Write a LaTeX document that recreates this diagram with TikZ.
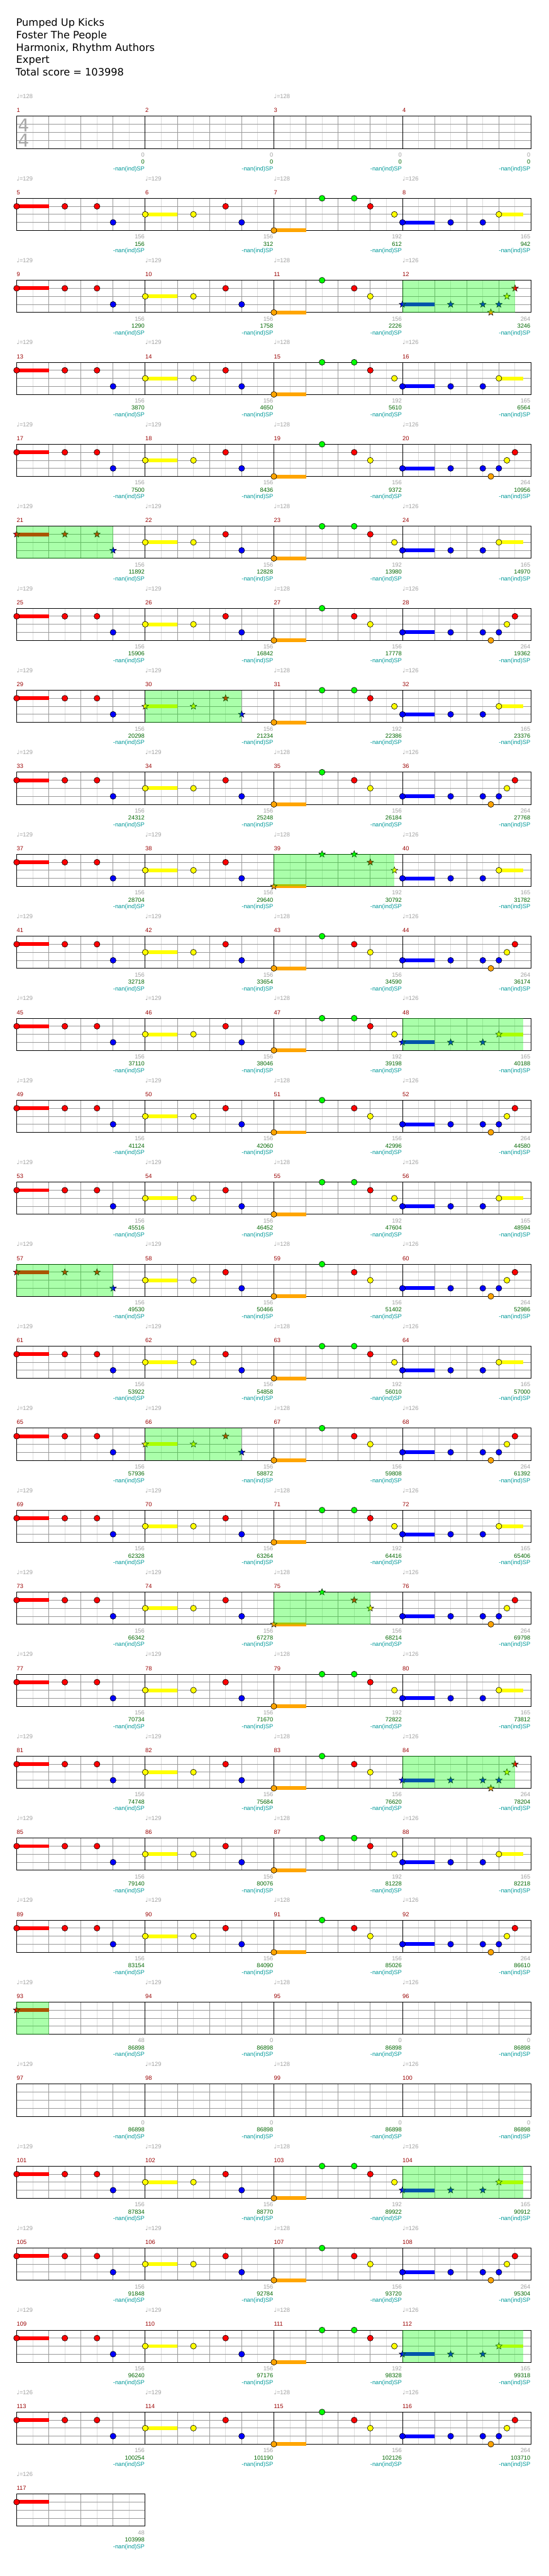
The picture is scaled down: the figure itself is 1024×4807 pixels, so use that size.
\documentclass[tikz,border=0pt]{standalone}
\usepackage{fontspec}
\setmainfont{Liberation Sans}
\newfontfamily\headfont{DejaVu Sans}
\usetikzlibrary{shapes.geometric}

\definecolor{lane0}{HTML}{00FF00}
\definecolor{lane1}{HTML}{FF0000}
\definecolor{lane2}{HTML}{FFFF00}
\definecolor{lane3}{HTML}{0000FF}
\definecolor{lane4}{HTML}{FFA500}
\definecolor{barred}{HTML}{990000}
\definecolor{ptsgray}{HTML}{A0A0A0}
\definecolor{totgreen}{HTML}{006600}
\definecolor{spteal}{HTML}{009999}
\definecolor{beatgray}{HTML}{999999}
\definecolor{halfgray}{HTML}{DDDDDD}
\definecolor{sigray}{HTML}{A8A8A8}

\tikzset{
  every node/.style={inner sep=0pt},
  halfline/.style={draw=halfgray, line width=1pt},
  beatline/.style={draw=beatgray, line width=1pt},
  barline/.style={draw=black, line width=1pt},
  gemdot/.style={circle, draw=black, line width=0.7pt, minimum size=11pt},
  gemstar/.style={star, star points=5, star point ratio=2.4, draw=black,
    line width=0.6pt, minimum size=13pt},
  sustain/.style={line width=7pt},
  spzone/.style={fill=lane0, fill opacity=0.333},
  small/.style={font=\fontsize{11}{13}\selectfont},
  tempolbl/.style={small, text=ptsgray, anchor=base west},
  barlbl/.style={small, text=barred, anchor=base west},
  ptslbl/.style={small, text=ptsgray, anchor=base east},
  totlbl/.style={small, text=totgreen, anchor=base east},
  splbl/.style={small, text=spteal, anchor=base east},
  headline/.style={font=\headfont\fontsize{19}{23}\selectfont, anchor=base west},
  timesig/.style={font=\headfont\fontsize{33}{33}\selectfont, text=sigray},
}

% one gem: lane, position in the row; a star inside the star power zone
\newcommand{\gem}[2]{%
  \pgfmathtruncatemacro\onsp{and(#2>=\spfrom,#2<=\spto)}%
  \ifnum\onsp=1
    \node[gemstar, fill=lane#1] (g\rowno-#2-#1) at (#2,15*#1) {};
  \else
    \node[gemdot, fill=lane#1] (g\rowno-#2-#1) at (#2,15*#1) {};
  \fi}
\newcommand{\hold}[3]{\draw[sustain, lane#1] (#2,15*#1) -- (#3,15*#1);}

% note patterns of a row of four bars
\newcommand{\firsthalf}{%
  \hold{1}{0}{60}\gem{1}{0}\gem{1}{90}\gem{1}{150}\gem{3}{180}
  \hold{2}{240}{300}\gem{2}{240}\gem{2}{330}\gem{1}{390}\gem{3}{420}}
\newcommand{\verseA}{\firsthalf
  \hold{4}{480}{540}\gem{4}{480}\gem{0}{570}\gem{0}{630}\gem{1}{660}\gem{2}{705}
  \hold{3}{720}{780}\gem{3}{720}\gem{3}{810}\gem{3}{870}
  \hold{2}{900}{945}\gem{2}{900}}
\newcommand{\verseB}{\firsthalf
  \hold{4}{480}{540}\gem{4}{480}\gem{0}{570}\gem{1}{630}\gem{2}{660}
  \hold{3}{720}{780}\gem{3}{720}\gem{3}{810}\gem{3}{870}
  \gem{4}{885}\gem{3}{900}\gem{2}{915}\gem{1}{930}}
\newcommand{\breakbar}{\hold{1}{0}{60}\gem{1}{0}}

% row, notes, star power from/to, tempo/points/total of each bar
\newcommand{\chartrow}[5]{%
  \begin{scope}[shift={(31,217+153*#1)}]
    \def\rowno{#1}\def\spfrom{#3}\def\spto{#4}
    \foreach \tempo/\pts/\tot [count=\j from 0] in {#5} {
      \pgfmathtruncatemacro\barno{4*#1+\j+1}
      \begin{scope}[xshift=240*\j]
        \foreach \x in {30,90,150,210} \draw[halfline] (\x,0) -- (\x,60);
        \foreach \y in {15,30,45} \draw[beatline] (0,\y) -- (240,\y);
        \foreach \x in {60,120,180} \draw[beatline] (\x,0) -- (\x,60);
        \draw[barline] (0,0) rectangle (240,60);
        \ifx\tempo\empty\else
          \node[tempolbl] (tempo-\barno) at (0,-33) {{\headfont ♩}=\tempo};
        \fi
        \node[barlbl] (bar-\barno) at (0,-7) {\barno};
        \node[ptslbl] (pts-\barno) at (239,75.7) {\pts};
        \node[totlbl] (tot-\barno) at (239,89) {\tot};
        \node[splbl] (sp-\barno) at (239,101.4) {-nan(ind)SP};
      \end{scope}
    }
    #2
    \ifdim #3pt<0pt \else \fill[spzone] (#3,0) rectangle (#4,60); \fi
  \end{scope}}

\begin{document}
\begin{tikzpicture}[x=1pt, y=-1pt]
  \useasboundingbox (0,0) rectangle (1024,4807);
  \fill[white] (0,0) rectangle (1024,4807);

  % heading
  \node[headline] (title1) at (30,49) {Pumped Up Kicks};
  \node[headline] (title2) at (30,72) {Foster The People};
  \node[headline] (title3) at (30,95.5) {Harmonix, Rhythm Authors};
  \node[headline] (title4) at (30,118.5) {Expert};
  \node[headline] (title5) at (29,141.5) {Total score = 103998};

  \chartrow{0}{}{-1}{-1}{128/0/0, /0/0, 128/0/0, /0/0}
  \node[timesig] (sig-top) at (44,233.5) {4};
  \node[timesig] (sig-bot) at (44,262) {4};

  \chartrow{1}{\verseA}{-1}{-1}{129/156/156, 129/156/312, 128/192/612, 126/165/942}
  \chartrow{2}{\verseB}{720}{930}{129/156/1290, 129/156/1758, 128/156/2226, 126/264/3246}
  \chartrow{3}{\verseA}{-1}{-1}{129/156/3870, 129/156/4650, 128/192/5610, 126/165/6564}
  \chartrow{4}{\verseB}{-1}{-1}{129/156/7500, 129/156/8436, 128/156/9372, 126/264/10956}
  \chartrow{5}{\verseA}{0}{180}{129/156/11892, 129/156/12828, 128/192/13980, 126/165/14970}
  \chartrow{6}{\verseB}{-1}{-1}{129/156/15906, 129/156/16842, 128/156/17778, 126/264/19362}
  \chartrow{7}{\verseA}{240}{420}{129/156/20298, 129/156/21234, 128/192/22386, 126/165/23376}
  \chartrow{8}{\verseB}{-1}{-1}{129/156/24312, 129/156/25248, 128/156/26184, 126/264/27768}
  \chartrow{9}{\verseA}{480}{705}{129/156/28704, 129/156/29640, 128/192/30792, 126/165/31782}
  \chartrow{10}{\verseB}{-1}{-1}{129/156/32718, 129/156/33654, 128/156/34590, 126/264/36174}
  \chartrow{11}{\verseA}{720}{945}{129/156/37110, 129/156/38046, 128/192/39198, 126/165/40188}
  \chartrow{12}{\verseB}{-1}{-1}{129/156/41124, 129/156/42060, 128/156/42996, 126/264/44580}
  \chartrow{13}{\verseA}{-1}{-1}{129/156/45516, 129/156/46452, 128/192/47604, 126/165/48594}
  \chartrow{14}{\verseB}{0}{180}{129/156/49530, 129/156/50466, 128/156/51402, 126/264/52986}
  \chartrow{15}{\verseA}{-1}{-1}{129/156/53922, 129/156/54858, 128/192/56010, 126/165/57000}
  \chartrow{16}{\verseB}{240}{420}{129/156/57936, 129/156/58872, 128/156/59808, 126/264/61392}
  \chartrow{17}{\verseA}{-1}{-1}{129/156/62328, 129/156/63264, 128/192/64416, 126/165/65406}
  \chartrow{18}{\verseB}{480}{660}{129/156/66342, 129/156/67278, 128/156/68214, 126/264/69798}
  \chartrow{19}{\verseA}{-1}{-1}{129/156/70734, 129/156/71670, 128/192/72822, 126/165/73812}
  \chartrow{20}{\verseB}{720}{930}{129/156/74748, 129/156/75684, 128/156/76620, 126/264/78204}
  \chartrow{21}{\verseA}{-1}{-1}{129/156/79140, 129/156/80076, 128/192/81228, 126/165/82218}
  \chartrow{22}{\verseB}{-1}{-1}{129/156/83154, 129/156/84090, 128/156/85026, 126/264/86610}
  \chartrow{23}{\breakbar}{0}{60}{129/48/86898, 129/0/86898, 128/0/86898, 126/0/86898}
  \chartrow{24}{}{-1}{-1}{129/0/86898, 129/0/86898, 128/0/86898, 126/0/86898}
  \chartrow{25}{\verseA}{720}{945}{129/156/87834, 129/156/88770, 128/192/89922, 126/165/90912}
  \chartrow{26}{\verseB}{-1}{-1}{129/156/91848, 129/156/92784, 128/156/93720, 126/264/95304}
  \chartrow{27}{\verseA}{720}{945}{129/156/96240, 129/156/97176, 128/192/98328, 126/165/99318}
  \chartrow{28}{\verseB}{-1}{-1}{126/156/100254, 129/156/101190, 128/156/102126, 126/264/103710}
  \chartrow{29}{\breakbar}{-1}{-1}{126/48/103998}
\end{tikzpicture}
\end{document}
